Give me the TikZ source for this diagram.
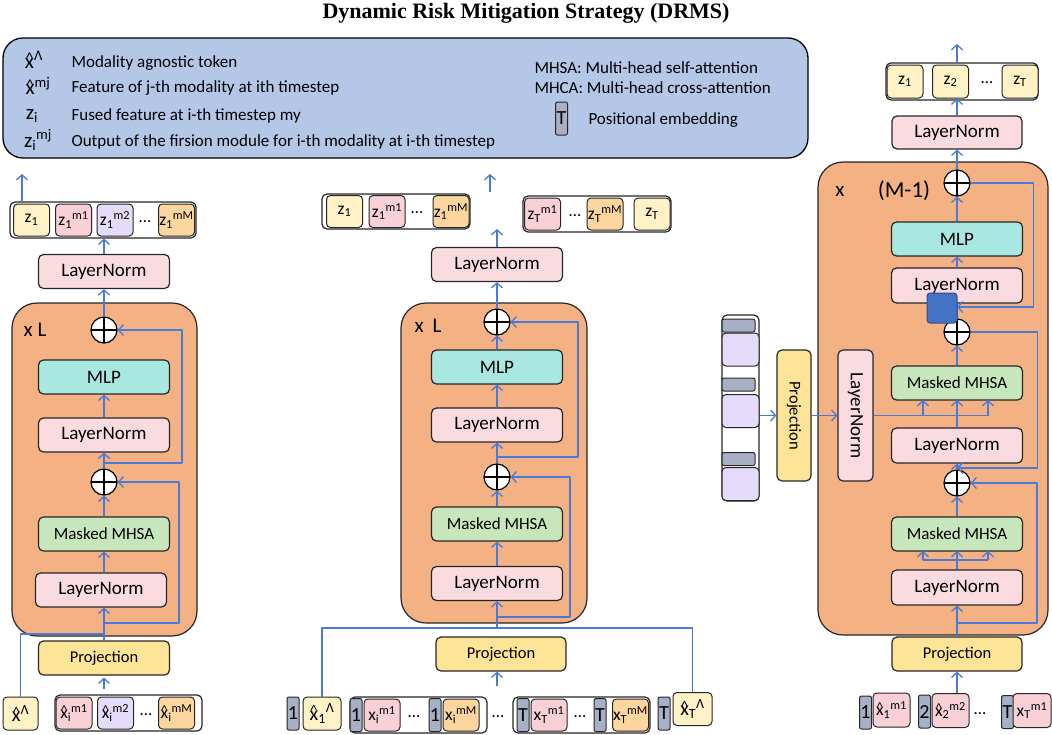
\documentclass[tikz,border=0pt]{standalone}
\usepackage{fontspec}
\usepackage{graphicx}
\setmainfont{Carlito}
\newfontfamily\titlefont{Liberation Serif}
\usetikzlibrary{positioning,arrows.meta}

\definecolor{lnpink}{RGB}{250,219,224}
\definecolor{mlpteal}{RGB}{168,232,224}
\definecolor{mhsagreen}{RGB}{200,230,188}
\definecolor{projyellow}{RGB}{253,228,150}
\definecolor{bodyorange}{RGB}{244,177,131}
\definecolor{legendblue}{RGB}{180,199,231}
\definecolor{cellyellow}{RGB}{255,242,198}
\definecolor{cellpink}{RGB}{249,208,214}
\definecolor{celllav}{RGB}{229,219,250}
\definecolor{cellorange}{RGB}{252,214,158}
\definecolor{posgrey}{RGB}{168,176,198}
\definecolor{flowblue}{RGB}{74,122,216}
\definecolor{sqblue}{RGB}{68,114,196}

\newcommand{\lo}[1]{\textsubscript{#1}}
\newcommand{\hi}[1]{\textsuperscript{#1}}
\newcommand{\xh}{{\leavevmode\ooalign{x\cr\hidewidth\raisebox{0.22em}{\scalebox{0.75}{\textasciicircum}}\hidewidth\cr}}}

\begin{document}
\begin{tikzpicture}[x=1pt,y=-1pt,>={Straight Barb[length=5pt,width=11pt]},line join=round]
\tikzstyle{every node}=[font=\fontsize{17}{20}\selectfont]
\tikzstyle{blk}=[draw=black!85, line width=1.2pt, rounded corners=5pt, minimum width=131pt, minimum height=34pt, inner sep=0pt]
\tikzstyle{ln}=[blk, fill=lnpink, font=\fontsize{19}{22}\selectfont]
\tikzstyle{mlp}=[blk, fill=mlpteal, font=\fontsize{19}{22}\selectfont]
\tikzstyle{mhsa}=[blk, fill=mhsagreen, font=\fontsize{17}{20}\selectfont]
\tikzstyle{proj}=[blk, fill=projyellow, font=\fontsize{16.5}{20}\selectfont]
\tikzstyle{body}=[draw=black!85, line width=1.2pt, rounded corners=25pt, fill=bodyorange, inner sep=0pt]
\tikzstyle{plus}=[circle, draw=black, line width=1.2pt, fill=white, minimum size=26pt, inner sep=0pt,
  path picture={\draw[line width=1.2pt] (path picture bounding box.north) -- (path picture bounding box.south)
  (path picture bounding box.west) -- (path picture bounding box.east);}]
\tikzstyle{tok}=[draw=black!85, line width=1pt, rounded corners=4pt, minimum width=36pt, minimum height=32pt, inner sep=0pt, font=\fontsize{17.5}{19}\selectfont]
\tikzstyle{strip}=[draw=black!85, line width=1.2pt, rounded corners=5pt, fill=white, inner sep=0pt]
\tikzstyle{pemb}=[draw=black!85, line width=1pt, rounded corners=2pt, fill=posgrey, minimum width=12pt, minimum height=33pt, inner sep=0pt, font=\fontsize{20}{22}\selectfont]
\tikzstyle{flow}=[draw=flowblue, line width=1.3pt]

\useasboundingbox (0,0) rectangle (1052,734);

% Title and legend
\node[font=\titlefont\bfseries\fontsize{22}{26}\selectfont] (title) at (526,13) {Dynamic Risk Mitigation Strategy (DRMS)};
\node[draw, line width=1.3pt, rounded corners=20pt, fill=legendblue, minimum width=805pt, minimum height=120pt] (legend) at (405.5,98) {};
\node[font=\fontsize{21}{22}\selectfont] (symA) at (34,60) {\xh\hi{Λ}};
\node[font=\fontsize{21}{22}\selectfont] (symB) at (38,86) {\xh\hi{mj}};
\node[font=\fontsize{21}{22}\selectfont] (symC) at (32,116) {z\lo{i}};
\node[font=\fontsize{21}{22}\selectfont] (symD) at (38,140) {z\lo{i}\hi{mj}};
\node[anchor=west] (txtA) at (68,63) {Modality agnostic token};
\node[anchor=west] (txtB) at (68,88) {Feature of j-th modality at ith timestep};
\node[anchor=west] (txtC) at (68,116) {Fused feature at i-th timestep my};
\node[anchor=west] (txtD) at (68,142) {Output of the firsion module for i-th modality at i-th timestep};
\node[anchor=west] (txtE) at (531,68) {MHSA: Multi-head self-attention};
\node[anchor=west] (txtF) at (531,88) {MHCA: Multi-head cross-attention};
\node[pemb] (pembT) at (561.5,118.5) {T};
\node[anchor=west] (txtG) at (585,120) {Positional embedding};

% Left column
\node[body, minimum width=185pt, minimum height=333pt] (bodyL) at (104.5,469.5) {};
\node[font=\fontsize{21}{24}\selectfont] (repL) at (35,330) {x L};
\node[plus] (ptL) at (104,330) {};
\node[mlp] (mlpL) at (104,377) {MLP};
\node[ln] (lnL2) at (104,435) {LayerNorm};
\node[plus] (pmL) at (104,482) {};
\node[mhsa] (mhsaL) at (104,534) {Masked MHSA};
\node[ln] (lnL1) at (101,590) {LayerNorm};
\node[proj] (projL) at (104,658) {Projection};
\node[ln] (lnLo) at (104,271.5) {LayerNorm};
\node[strip, minimum width=186pt, minimum height=36pt] (zoutL) at (103,220) {};
\foreach \x/\c/\t [count=\i] in {31.5/cellyellow/{z\lo{1}}, 73.5/cellpink/{z\lo{1}\hi{m1}},
    115/celllav/{z\lo{1}\hi{m2}}, 176.5/cellorange/{z\lo{1}\hi{mM}}}
  \node[tok, fill=\c] (zL\i) at (\x,220) {\t};
\node (dotsLo) at (145,222) {\dots};
\node[tok, fill=cellyellow, minimum width=35pt, minimum height=33pt, font=\fontsize{20}{20}\selectfont] (xlamL) at (20.5,713.5) {\xh\hi{Λ}};
\node[strip, minimum width=147pt, minimum height=36pt] (inL) at (128.5,713) {};
\foreach \x/\c/\t [count=\i] in {74/cellpink/{\xh\lo{i}\hi{m1}}, 115.5/celllav/{\xh\lo{i}\hi{m2}},
    176.5/cellorange/{\xh\lo{i}\hi{mM}}}
  \node[tok, fill=\c] (xL\i) at (\x,713) {\t};
\node (dotsLi) at (146,715) {\dots};

\coordinate (jL) at (104,634);
\coordinate (rL1) at (104,623);
\coordinate (rL2) at (104,463);
\coordinate (topL) at (22,174);
\draw[flow,->,shorten <=5pt,shorten >=2pt] (projL.south |- inL.north) -- (projL.south);
\draw[flow,->] (projL.north) -- (projL.north |- lnL1.south);
\draw[flow] (xlamL.north) |- (jL);
\draw[flow,->] (rL1) -- ++(75,0) |- (pmL.east);
\draw[flow,->] (mhsaL.south |- lnL1.north) -- (mhsaL.south);
\draw[flow,->] (mhsaL) -- (pmL);
\draw[flow,->] (pmL) -- (lnL2);
\draw[flow,->] (rL2) -- ++(78,0) |- (ptL.east);
\draw[flow,->] (lnL2) -- (mlpL);
\draw[flow,->] (ptL) -- (lnLo);
\draw[flow,->] (lnLo) -- (lnLo |- zoutL.south);
\draw[flow,->] (topL |- zoutL.north) -- (topL);

% Middle column
\node[body, minimum width=186pt, minimum height=320pt] (bodyM) at (494,463) {};
\node[font=\fontsize{21}{24}\selectfont] (repM) at (428,326) {x\hspace{9pt}L};
\node[plus] (ptM) at (497,322) {};
\node[mlp] (mlpM) at (497,367) {MLP};
\node[ln] (lnM2) at (497,425) {LayerNorm};
\node[plus] (pmM) at (497,477) {};
\node[mhsa] (mhsaM) at (497,524) {Masked MHSA};
\node[ln] (lnM1) at (497,583.5) {LayerNorm};
\node[proj, minimum width=130pt] (projM) at (501,654) {Projection};
\node[ln] (lnMo) at (497,264.5) {LayerNorm};
\node[strip, minimum width=148pt, minimum height=35pt] (zoutM1) at (396,211.5) {};
\foreach \x/\c/\t [count=\i] in {344.5/cellyellow/{z\lo{1}}, 387/cellpink/{z\lo{1}\hi{m1}},
    451/cellorange/{z\lo{1}\hi{mM}}}
  \node[tok, fill=\c] (zM\i) at (\x,211.5) {\t};
\node (dotsMo1) at (417,213) {\dots};
\node[strip, minimum width=148pt, minimum height=36pt] (zoutM2) at (597,214) {};
\foreach \x/\c/\t [count=\i] in {542.5/cellpink/{z\lo{T}\hi{m1}}, 605/cellorange/{z\lo{T}\hi{mM}},
    652/cellyellow/{z\lo{T}}}
  \node[tok, fill=\c] (zTM\i) at (\x,214) {\t};
\node (dotsMo2) at (575,216) {\dots};
% inputs with positional embeddings
\node[pemb] (pM1) at (293,713.5) {1};
\node[tok, fill=cellyellow, minimum width=38pt, minimum height=33pt, font=\fontsize{20}{20}\selectfont] (xlam1M) at (322,713.5) {\xh\lo{1}\hi{Λ}};
\node[strip, minimum width=137pt, minimum height=36pt] (inMa) at (418.5,715) {};
\node[pemb] (pMa1) at (356,715) {1};
\node[tok, fill=cellpink] (xMa1) at (382,715) {x\lo{i}\hi{m1}};
\node (dotsMa) at (414,717) {\dots};
\node[pemb] (pMa2) at (435,715) {1};
\node[tok, fill=cellorange] (xMa2) at (461,715) {x\lo{i}\hi{mM}};
\node (dotsMi) at (498,717) {\dots};
\node[strip, minimum width=137pt, minimum height=36pt] (inMb) at (581.5,715) {};
\node[pemb] (pMb1) at (523,715) {T};
\node[tok, fill=cellpink] (xMb1) at (549,715) {x\lo{T}\hi{m1}};
\node (dotsMb) at (580,717) {\dots};
\node[pemb] (pMb2) at (600,715) {T};
\node[tok, fill=cellorange] (xMb2) at (630.5,715) {x\lo{T}\hi{mM}};
\node[pemb] (pMT) at (664,713.5) {T};
\node[tok, fill=cellyellow, minimum width=39pt, minimum height=33pt, font=\fontsize{20}{20}\selectfont] (xlamTM) at (692.5,709) {\xh\lo{T}\hi{Λ}};

\coordinate (busM) at (497,628);
\coordinate (rM1) at (497,617);
\coordinate (rM2) at (497,457);
\coordinate (outM) at (497,229);
\coordinate (inM) at (497,686);
\coordinate (topM) at (490,174);
\draw[flow] (xlam1M.north) |- (busM) -| (xlamTM.north);
\draw[flow,->] (busM) -- (lnM1);
\draw[flow,->] (inM) -- (inM |- projM.south);
\draw[flow,->] (rM1) -- ++(73,0) |- (pmM.east);
\draw[flow,->] (lnM1) -- (mhsaM);
\draw[flow,->] (mhsaM) -- (pmM);
\draw[flow,->] (pmM) -- (lnM2);
\draw[flow,->] (rM2) -- ++(81,0) |- (ptM.east);
\draw[flow,->] (lnM2) -- (mlpM);
\draw[flow,->] (mlpM) -- (ptM);
\draw[flow,->] (ptM) -- (lnMo);
\draw[flow,->] (lnMo) -- (outM);
\draw[flow,<-] (topM) -- ++(0,18);

% Right column
\node[body, minimum width=230pt, minimum height=473pt] (bodyR) at (933,398.5) {};
\node[font=\fontsize{21}{24}\selectfont] (repR) at (840,191) {x};
\node[font=\fontsize{23}{26}\selectfont] (mR) at (904,191) {(M-1)};
\node[plus] (ptR1) at (957,183) {};
\node[mlp] (mlpR) at (957,239) {MLP};
\node[ln, minimum height=35pt] (lnR3) at (957,285.5) {LayerNorm};
\node[plus] (ptR2) at (957,332) {};
\node[mhsa] (mhsaR2) at (957,383) {Masked MHSA};
\node[ln, minimum height=35pt] (lnR2) at (957,445.5) {LayerNorm};
\node[plus] (ptR3) at (957,483) {};
\node[mhsa] (mhsaR1) at (957,534) {Masked MHSA};
\node[ln, minimum height=35pt] (lnR1) at (957,587.5) {LayerNorm};
\node[proj, minimum width=130pt] (projR) at (957,654) {Projection};
\node[ln, minimum width=130pt, minimum height=33pt] (lnRo) at (957,132.5) {LayerNorm};
\node[strip, minimum width=152pt, minimum height=37pt] (zoutR) at (962,81.5) {};
\foreach \x/\t [count=\i] in {905/{z\lo{1}}, 950.5/{z\lo{2}}, 1020/{z\lo{T}}}
  \node[tok, fill=cellyellow, minimum height=33pt] (zR\i) at (\x,81.5) {\t};
\node (dotsRo) at (987,83) {\dots};
% side branch
\node[strip, minimum width=37pt, minimum height=186pt] (stackR) at (740.5,408) {};
\foreach \y/\yc [count=\i] in {325.5/349.5, 384.5/411, 459/484} {
  \node[draw=black!85, line width=1pt, rounded corners=2pt, fill=posgrey, minimum width=33pt, minimum height=13pt, inner sep=0pt] (barR\i) at (738.5,\y) {};
  \node[draw=black!85, line width=1pt, rounded corners=4pt, fill=celllav, minimum width=37pt, minimum height=33pt, inner sep=0pt] (cellR\i) at (740.5,\yc) {};
}
\node[proj, rotate=-90] (projV) at (794,415.5) {Projection};
\node[ln, minimum height=35pt, rotate=-90] (lnV) at (855.5,415.5) {LayerNorm};
% inputs
\node[pemb] (pR1) at (865.5,712.5) {1};
\node[tok, fill=cellpink, minimum width=37pt, minimum height=34pt] (xR1) at (891.5,710) {\xh\lo{1}\hi{m1}};
\node[pemb] (pR2) at (924.5,711.5) {2};
\node[tok, fill=cellpink, minimum width=37pt, minimum height=34pt] (xR2) at (950.5,710.5) {\xh\lo{2}\hi{m2}};
\node (dotsRi) at (980,714) {\dots};
\node[pemb] (pR3) at (1007.5,712) {T};
\node[tok, fill=cellpink, minimum width=38pt, minimum height=34pt] (xR3) at (1032,710.5) {x\lo{T}\hi{m1}};

\coordinate (busR2) at (957,415.5);
\coordinate (busR1) at (957,560);
\coordinate (rR1) at (957,307);
\coordinate (rR2) at (957,468);
\coordinate (rR3) at (957,623);
\coordinate (topR) at (957,44);
\draw[flow,->] (projR |- xR2.north) -- (projR.south);
\draw[flow,->] (projR) -- (lnR1);
\draw[flow] (lnR1) -- (busR1);
\draw[flow] ([xshift=-34pt]busR1) -- ([xshift=31pt]busR1);
\foreach \dx in {-34,0,31}
  \draw[flow,->] ([xshift=\dx pt]busR1) -- ++(0,-9);
\draw[flow,->] (rR3) -- ++(80,0) |- (ptR3.east);
\draw[flow,->] (mhsaR1) -- (ptR3);
\draw[flow,->] (ptR3) -- (lnR2);
\draw[flow,->] (stackR.east |- projV) -- (projV.south);
\draw[flow,->] (projV.north) -- (lnV.south);
\draw[flow] (lnV.north |- busR2) -- ([xshift=31pt]busR2);
\draw[flow] (lnR2) -- (busR2);
\foreach \dx in {-34,0,31}
  \draw[flow,->] ([xshift=\dx pt]busR2) -- ++(0,-15.5);
\draw[flow,->] (mhsaR2) -- (ptR2);
\draw[flow,->] (ptR2.east) -- ++(67,0) |- (rR2);
\draw[flow] (ptR2) -- (lnR3);
\draw[flow,->] (ptR1.east) -- ++(63,0) |- (rR1);
\draw[flow,->] (lnR3) -- (mlpR);
\draw[flow,->] (mlpR) -- (ptR1);
\draw[flow,->] (ptR1) -- (lnRo);
\draw[flow,->] (lnRo) -- (lnRo |- zR2.south);
\draw[flow,->] (topR |- zoutR.north) -- (topR);
\node[draw=sqblue!70!black, line width=1pt, rounded corners=3pt, fill=sqblue, minimum size=30pt, inner sep=0pt] (sqR) at (942,308) {};
\end{tikzpicture}
\end{document}
